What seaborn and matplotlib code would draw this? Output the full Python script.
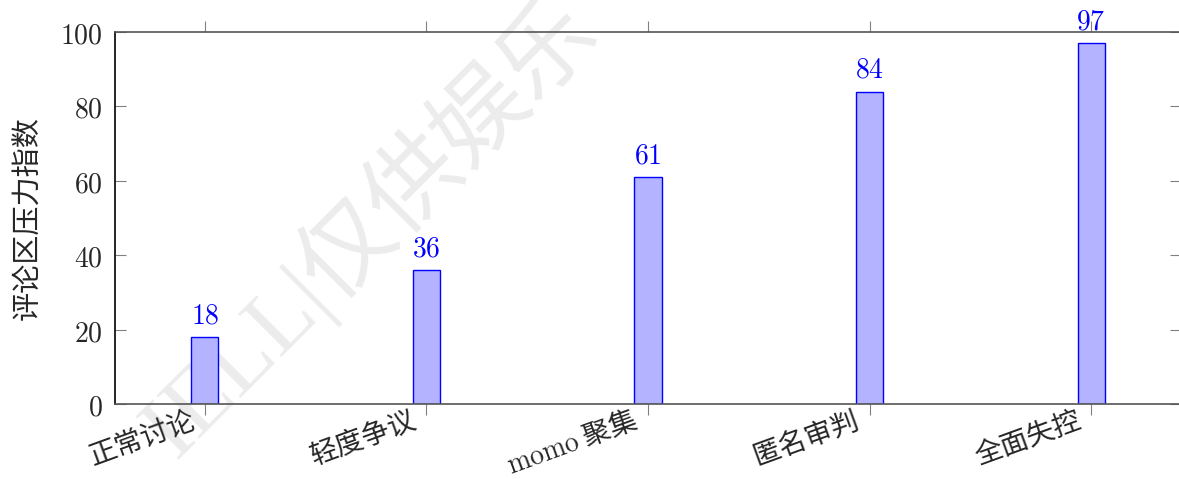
import matplotlib
matplotlib.use('Agg')
import matplotlib.pyplot as plt
import matplotlib.transforms as mtransforms
import seaborn as sns
import pandas as pd

sns.set_style('white')
plt.rcParams['font.family'] = ['Noto Sans CJK SC', 'DejaVu Sans']
plt.rcParams['mathtext.fontset'] = 'cm'

# datos
categorias = ['正常讨论', '轻度争议', '$\\mathrm{momo}$ 聚集', '匿名审判', '全面失控']
valores = [18, 36, 61, 84, 97]
yticks = [0, 20, 40, 60, 80, 100]

df = pd.DataFrame({'cat': categorias, 'val': valores})

fig = plt.figure(figsize=(11.79, 4.79), dpi=100)
ax = fig.add_axes([115 / 1179, 75 / 479, 1066 / 1179, 372 / 479])
ax.patch.set_facecolor('none')

sns.barplot(data=df, x='cat', y='val', ax=ax, width=0.122, color='#b3b3ff',
            saturation=1, edgecolor='#0000ff', linewidth=1)

ax.set_xlim(-0.406, 4.406)
ax.set_ylim(0, 100)
ax.set_yticks(yticks)
ax.set_yticklabels(['$%d$' % t for t in yticks], fontsize=20)
ax.set_xlabel('')
ax.set_ylabel('评论区压力指数', fontsize=21, labelpad=12)

# etiquetas del eje x rotadas (anchor east como en pgfplots)
ax.set_xticks(range(len(categorias)))
ax.set_xticklabels([''] * len(categorias))
desplaza = mtransforms.ScaledTranslation(-11 / 100, -16 / 100, fig.dpi_scale_trans)
for i, c in enumerate(categorias):
    ax.text(i, 0, c, transform=ax.get_xaxis_transform() + desplaza,
            fontsize=20, rotation=20, ha='right', va='center',
            rotation_mode='anchor')

# ejes estilo pgfplots
for s in ['top', 'bottom']:
    ax.spines[s].set_color('#555555')
    ax.spines[s].set_linewidth(1.2)
ax.spines['left'].set_color('black')
ax.spines['left'].set_linewidth(1.2)
ax.spines['right'].set_color('#555555')

ax.tick_params(axis='x', which='both', direction='out', length=8, width=0.8,
               color='#808080', top=True, bottom=True, pad=3)
ax.tick_params(axis='y', which='both', direction='in', length=8, width=0.8,
               color='#808080', left=True, right=True, pad=9)

ax.bar_label(ax.containers[0], labels=['$%d$' % v for v in valores],
             color='#0000ff', fontsize=20, padding=5)

# marca de agua (detras de todo)
fig.text(175 / 1179, 1 - 460 / 479, 'IELL|仅供娱乐', fontsize=68, color='#ececec',
         family=['Liberation Serif', 'Noto Sans CJK SC'], rotation=45,
         rotation_mode='anchor', ha='left', va='baseline', zorder=-1)

fig.savefig('out.png', dpi=100)
